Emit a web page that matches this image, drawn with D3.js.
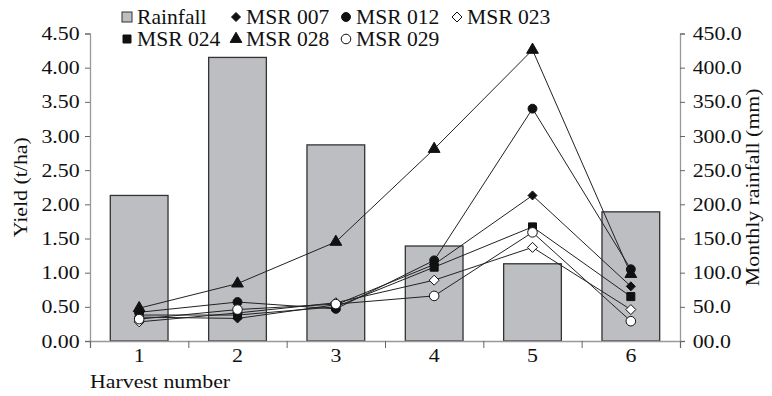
<!DOCTYPE html>
<html>
<head>
<meta charset="utf-8">
<script src="https://cdn.jsdelivr.net/npm/d3@7"></script>
<style>
  body { margin: 0; background: #fff; }
  text { font-family: "Liberation Serif", "Times New Roman", serif; fill: #111; }
</style>
</head>
<body>
<div class="main"></div>
<script>
var harvests = [1, 2, 3, 4, 5, 6];
var rainfall = [213, 415, 287, 139, 113, 189];
var msr007 = [0.35, 0.33, 0.53, 1.12, 2.13, 0.80];
var msr012 = [0.42, 0.57, 0.47, 1.18, 3.40, 1.05];
var msr023 = [0.28, 0.41, 0.56, 0.89, 1.37, 0.46];
var msr024 = [0.38, 0.38, 0.50, 1.08, 1.67, 0.65];
var msr028 = [0.48, 0.84, 1.45, 2.81, 4.26, 0.98];
var msr029 = [0.32, 0.46, 0.54, 0.66, 1.59, 0.29];
var yieldTicks = [0, 0.5, 1, 1.5, 2, 2.5, 3, 3.5, 4, 4.5];
var rainTicks = [0, 50, 100, 150, 200, 250, 300, 350, 400, 450];

var series = [
    { name: 'MSR 007', values: msr007, shape: 'diamond', fill: '#111' },
    { name: 'MSR 012', values: msr012, shape: 'circle', fill: '#111' },
    { name: 'MSR 023', values: msr023, shape: 'diamond', fill: '#fff' },
    { name: 'MSR 024', values: msr024, shape: 'square', fill: '#111' },
    { name: 'MSR 028', values: msr028, shape: 'triangle', fill: '#111' },
    { name: 'MSR 029', values: msr029, shape: 'circle', fill: '#fff' }
];

var options = { width: 772, height: 396 };
var plot = { left: 90, right: 680, top: 33.5, bottom: 341 };
var stretch = 'scale(1.15,1)';

var svg = d3.select('.main')
    .append('svg')
    .attr('width', options.width)
    .attr('height', options.height);

var x = d3.scaleBand()
    .domain(harvests)
    .range([plot.left, plot.right])
    .paddingInner(0.413)
    .paddingOuter(0.2065);
var xEdge = d3.scaleLinear().domain([0, harvests.length]).range([plot.left, plot.right]);
var yL = d3.scaleLinear().domain([0, 4.5]).range([plot.bottom, plot.top]);
var yR = d3.scaleLinear().domain([0, 450]).range([plot.bottom, plot.top]);

// bars
svg.append('g').selectAll('.bar')
    .data(rainfall)
    .enter()
    .append('rect')
    .attr('class', 'bar')
    .attr('x', function (d, i) { return x(harvests[i]); })
    .attr('y', function (d) { return yR(d); })
    .attr('width', x.bandwidth())
    .attr('height', function (d) { return plot.bottom - yR(d); })
    .style('fill', '#bdbec2')
    .style('stroke', '#333')
    .style('stroke-width', 1.3);

// axes
function styleAxis(g) {
    g.select('.domain').style('stroke', '#999').style('stroke-width', 1.3);
    g.selectAll('.tick line').style('stroke', '#666').style('stroke-width', 1);
    g.selectAll('.tick text')
        .attr('transform', stretch)
        .style('font-size', '19px')
        .style('font-family', '"Liberation Serif", serif')
        .style('fill', '#111');
}

svg.append('g')
    .attr('transform', 'translate(' + plot.left + ',0)')
    .call(d3.axisLeft(yL).tickValues(yieldTicks).tickSize(5).tickPadding(4).tickFormat(d3.format('.2f')))
    .call(styleAxis);

svg.append('g')
    .attr('transform', 'translate(' + plot.right + ',0)')
    .call(d3.axisRight(yR).tickValues(rainTicks).tickSize(5).tickPadding(6)
        .tickFormat(function (d) { return d === 0 ? '00.0' : d3.format('.1f')(d); }))
    .call(styleAxis);

svg.append('g')
    .attr('transform', 'translate(0,' + plot.bottom + ')')
    .call(d3.axisBottom(xEdge).ticks(6).tickSize(7).tickFormat(''))
    .call(styleAxis);

svg.append('g')
    .attr('transform', 'translate(0,' + plot.bottom + ')')
    .call(d3.axisBottom(x).tickSize(0).tickPadding(8))
    .call(styleAxis)
    .call(function (g) { g.select('.domain').remove(); });

// markers
function marker(sel, shape, fill) {
    var p;
    if (shape === 'diamond') {
        var r = fill === '#fff' ? 5 : 4.5;
        p = 'M0,' + (-r) + 'L' + r + ',0L0,' + r + 'L' + (-r) + ',0Z';
    } else if (shape === 'circle') {
        p = d3.symbol(d3.symbolCircle, fill === '#fff' ? 72 : 62)();
    } else if (shape === 'square') {
        p = d3.symbol(d3.symbolSquare, 64)();
    } else {
        p = d3.symbol(d3.symbolTriangle, 60)();
    }
    sel.append('path')
        .attr('d', p)
        .style('fill', fill)
        .style('stroke', '#111')
        .style('stroke-width', 1);
}

var line = d3.line()
    .x(function (d, i) { return x(harvests[i]) + x.bandwidth() / 2; })
    .y(function (d) { return yL(d); });

var gSeries = svg.append('g').selectAll('.series')
    .data(series)
    .enter()
    .append('g')
    .attr('class', 'series');

gSeries.append('path')
    .attr('d', function (d) { return line(d.values); })
    .style('fill', 'none')
    .style('stroke', '#222')
    .style('stroke-width', 1);

gSeries.each(function (s) {
    d3.select(this).selectAll('.pt')
        .data(s.values)
        .enter()
        .append('g')
        .attr('class', 'pt')
        .attr('transform', function (d, i) {
            return 'translate(' + [x(harvests[i]) + x.bandwidth() / 2, yL(d)] + ')';
        })
        .each(function () { marker(d3.select(this), s.shape, s.fill); });
});

// legend
var legendItems = [
    { name: 'Rainfall', shape: 'bar' },
    series[0], series[1], series[2],
    series[3], series[4], series[5]
];
var legendPos = [[127, 17], [236, 17], [346, 17], [457, 17], [127, 39], [236, 39], [346, 39]];

var gLegend = svg.append('g').selectAll('.leg')
    .data(legendItems)
    .enter()
    .append('g')
    .attr('class', 'leg')
    .attr('transform', function (d, i) { return 'translate(' + legendPos[i] + ')'; });

gLegend.each(function (d) {
    var g = d3.select(this);
    if (d.shape === 'bar') {
        g.append('rect')
            .attr('x', -5).attr('y', -5).attr('width', 10).attr('height', 10)
            .style('fill', '#bdbec2').style('stroke', '#333').style('stroke-width', 1);
    } else {
        marker(g, d.shape, d.fill);
    }
    g.append('text')
        .attr('transform', 'translate(10,7) scale(1.08,1)')
        .style('font-size', '20px')
        .text(d.name);
});

// axis titles
svg.append('text')
    .attr('transform', 'translate(27,' + ((plot.top + plot.bottom) / 2) + ') rotate(-90) ' + stretch)
    .attr('text-anchor', 'middle')
    .style('font-size', '19px')
    .text('Yield (t/ha)');

svg.append('text')
    .attr('transform', 'translate(759,' + ((plot.top + plot.bottom) / 2) + ') rotate(-90) ' + stretch)
    .attr('text-anchor', 'middle')
    .style('font-size', '19px')
    .text('Monthly rainfall (mm)');

svg.append('text')
    .attr('transform', 'translate(90,388) ' + stretch)
    .style('font-size', '19px')
    .text('Harvest number');
</script>
</body>
</html>
